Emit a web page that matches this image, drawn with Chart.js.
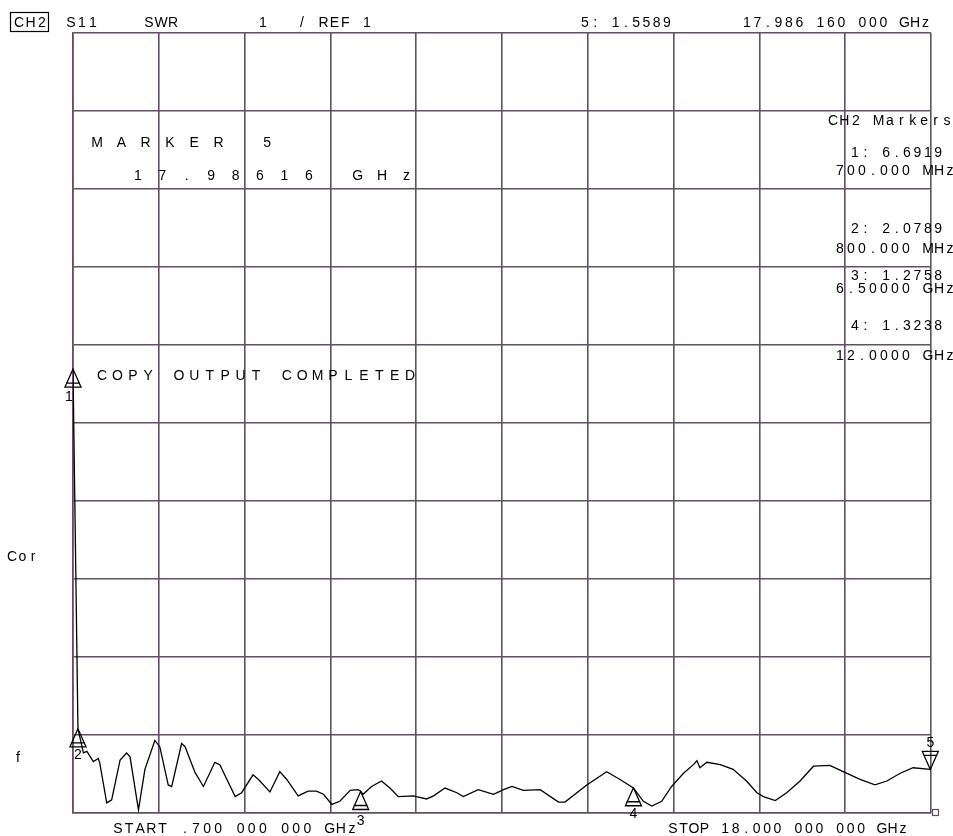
<!DOCTYPE html>
<html>
<head>
<meta charset="utf-8">
<script src="https://cdn.jsdelivr.net/npm/chart.js@4/dist/chart.umd.min.js"></script>
<style>
  html, body { margin: 0; padding: 0; background: #ffffff; }
  canvas { display: block; }
</style>
</head>
<body>
<canvas id="c" width="953" height="836"></canvas>
<script>
// ---- data ----
const freqGHz = [0.7, 0.8, 0.91, 0.98, 1.11, 1.21, 1.24, 1.38, 1.48, 1.65, 1.78, 1.85, 2.02, 2.15, 2.35, 2.45, 2.62, 2.69, 2.89, 2.96,
  3.16, 3.33, 3.56, 3.66, 3.97, 4.10, 4.33, 4.44, 4.67, 4.87, 5.01, 5.24, 5.44, 5.61, 5.75, 5.92, 6.08, 6.29, 6.45, 6.5,
  6.55, 6.72, 6.92, 7.09, 7.26, 7.56, 7.83, 7.97, 8.20, 8.44, 8.57, 8.87, 9.18, 9.38, 9.55, 9.78, 10.12, 10.49, 10.62, 11.06,
  11.46, 11.73, 12.0, 12.20, 12.37, 12.57, 12.77, 13.01, 13.21, 13.28, 13.34, 13.48, 13.75, 14.01, 14.28, 14.49, 14.62, 14.86, 15.09, 15.36,
  15.63, 15.96, 16.23, 16.57, 16.87, 17.11, 17.38, 17.64, 17.986, 18.0];
const swrValues = [6.69, 2.08, 1.77, 1.79, 1.66, 1.70, 1.64, 1.13, 1.17, 1.68, 1.77, 1.72, 1.04, 1.56, 1.93, 1.85, 1.36, 1.34, 1.89, 1.85,
  1.52, 1.34, 1.65, 1.62, 1.21, 1.26, 1.49, 1.43, 1.27, 1.53, 1.43, 1.22, 1.28, 1.28, 1.24, 1.11, 1.15, 1.29, 1.30, 1.28,
  1.24, 1.34, 1.41, 1.32, 1.21, 1.22, 1.18, 1.22, 1.32, 1.26, 1.21, 1.30, 1.24, 1.30, 1.34, 1.29, 1.30, 1.14, 1.14, 1.36,
  1.53, 1.43, 1.32, 1.15, 1.09, 1.15, 1.34, 1.51, 1.62, 1.67, 1.58, 1.65, 1.62, 1.56, 1.41, 1.26, 1.21, 1.16, 1.26, 1.41,
  1.60, 1.61, 1.53, 1.43, 1.36, 1.41, 1.51, 1.58, 1.56, 1.56];

const markerIds   = ['1', '2', '3', '4', '5'];
const markerFreqs = [0.7, 0.8, 6.5, 12.0, 17.986];
const markerSWR   = [6.6919, 2.0789, 1.2758, 1.3238, 1.5589];

const startGHz = 0.7, stopGHz = 18.0;
const refValue = 1, perDiv = 1, divisions = 10;
const xTickValues = Array.from({length: divisions + 1}, (_, i) => startGHz + i * (stopGHz - startGHz) / divisions);

const headerTexts = ['CH2', 'S11', 'SWR', '1', '/ REF 1', '5: 1.5589', '17.986 160 000 GHz'];
const panelTexts = ['CH2 Markers', '1: 6.6919', '700.000 MHz', '2: 2.0789', '800.000 MHz', '3: 1.2758', '6.50000 GHz', '4: 1.3238', '12.0000 GHz'];

const GRID = '#5f5062';
const FONT = '14px "Liberation Sans", Arial, sans-serif';

function spaced(ctx, text, x, y, pitch) {
  for (let i = 0; i < text.length; i++) {
    ctx.fillText(text[i], x + i * pitch, y);
  }
}

const overlay = {
  id: 'overlay',
  afterDraw(chart) {
    const ctx = chart.ctx;
    const xs = chart.scales.x, ys = chart.scales.y;
    ctx.save();
    ctx.fillStyle = '#000';
    ctx.font = FONT;
    ctx.textAlign = 'center';
    ctx.textBaseline = 'alphabetic';

    // header
    ctx.strokeStyle = '#000';
    ctx.lineWidth = 1.2;
    ctx.strokeRect(10.5, 12.5, 38, 19);
    spaced(ctx, headerTexts[0], 19, 27, 11.5);
    spaced(ctx, headerTexts[1], 71, 27, 11);
    spaced(ctx, headerTexts[2], 149, 27, 12);
    spaced(ctx, headerTexts[3], 263, 27, 11);
    spaced(ctx, headerTexts[4], 302, 27, 10.8);
    spaced(ctx, headerTexts[5], 585, 27, 10.25);
    spaced(ctx, headerTexts[6], 747, 27, 10.5);

    // marker readout
    spaced(ctx, 'MARKER 5', 97, 147, 24.3);
    spaced(ctx, '17.98616 GHz', 138, 180, 24.4);
    spaced(ctx, 'COPY OUTPUT COMPLETED', 102, 380, 15.4);

    // right panel
    spaced(ctx, panelTexts[0], 833, 125, 11.4);
    spaced(ctx, panelTexts[1], 855, 157, 10.4);
    spaced(ctx, panelTexts[2], 840, 175, 11);
    spaced(ctx, panelTexts[3], 855, 233, 10.4);
    spaced(ctx, panelTexts[4], 840, 253, 11);
    spaced(ctx, panelTexts[5], 855, 280, 10.4);
    spaced(ctx, panelTexts[6], 840, 293, 11);
    spaced(ctx, panelTexts[7], 855, 330, 10.4);
    spaced(ctx, panelTexts[8], 840, 360, 11);

    // side labels
    spaced(ctx, 'Cor', 12, 561, 10.5);
    spaced(ctx, 'f', 18, 762, 10);

    // bottom
    spaced(ctx, 'START .700 000 000 GHz', 118, 833, 11.14);
    spaced(ctx, 'STOP 18.000 000 000 GHz', 673, 833, 10.45);

    // markers
    ctx.lineWidth = 1.3;
    for (let i = 0; i < markerFreqs.length; i++) {
      const px = xs.getPixelForValue(markerFreqs[i]);
      const py = ys.getPixelForValue(markerSWR[i]);
      const w = 8, h = 18;
      ctx.beginPath();
      if (i === 4) {
        ctx.moveTo(px, py);
        ctx.lineTo(px - w, py - h);
        ctx.lineTo(px + w, py - h);
        ctx.closePath();
        ctx.moveTo(px - w + 1, py - h + 4);
        ctx.lineTo(px + w - 1, py - h + 4);
        ctx.stroke();
        ctx.fillText(markerIds[i], px, py - h - 4);
      } else {
        ctx.moveTo(px, py);
        ctx.lineTo(px - w, py + h);
        ctx.lineTo(px + w, py + h);
        ctx.closePath();
        ctx.moveTo(px - w + 1, py + h - 4);
        ctx.lineTo(px + w - 1, py + h - 4);
        ctx.stroke();
        let lx = px, ly = py + h + 12;
        if (i === 0) { lx = px - 4; ly = py + h + 14; }
        if (i === 2) ly = 825;
        ctx.fillText(markerIds[i], lx, ly);
      }
    }
    // small reference indicator at right bottom
    ctx.strokeStyle = GRID;
    ctx.lineWidth = 1.2;
    const ry = ys.getPixelForValue(refValue);
    ctx.strokeRect(xs.right + 1.5, ry - 3.5, 6, 6);
    ctx.restore();
  }
};

new Chart(document.getElementById('c'), {
  type: 'line',
  data: {
    datasets: [{
      data: freqGHz.map((f, i) => ({x: f, y: swrValues[i]})),
      borderColor: '#000000',
      borderWidth: 1.3,
      pointRadius: 0,
      tension: 0,
      fill: false
    }]
  },
  options: {
    responsive: false,
    animation: false,
    devicePixelRatio: 1,
    layout: { padding: { left: 73, top: 33, right: 22, bottom: 23 } },
    plugins: { legend: { display: false }, tooltip: { enabled: false } },
    scales: {
      x: {
        type: 'linear',
        min: startGHz, max: stopGHz,
        afterBuildTicks(axis) { axis.ticks = xTickValues.map(v => ({value: v})); },
        ticks: { display: false },
        grid: { color: GRID, lineWidth: 1.6, drawTicks: false, tickLength: 0 },
        border: { display: true, color: GRID, width: 1.6 }
      },
      y: {
        type: 'linear',
        min: refValue, max: refValue + perDiv * divisions,
        ticks: { display: false, stepSize: perDiv },
        grid: { color: GRID, lineWidth: 1.6, drawTicks: false, tickLength: 0 },
        border: { display: true, color: GRID, width: 1.6 }
      }
    }
  },
  plugins: [overlay]
});
</script>
</body>
</html>
